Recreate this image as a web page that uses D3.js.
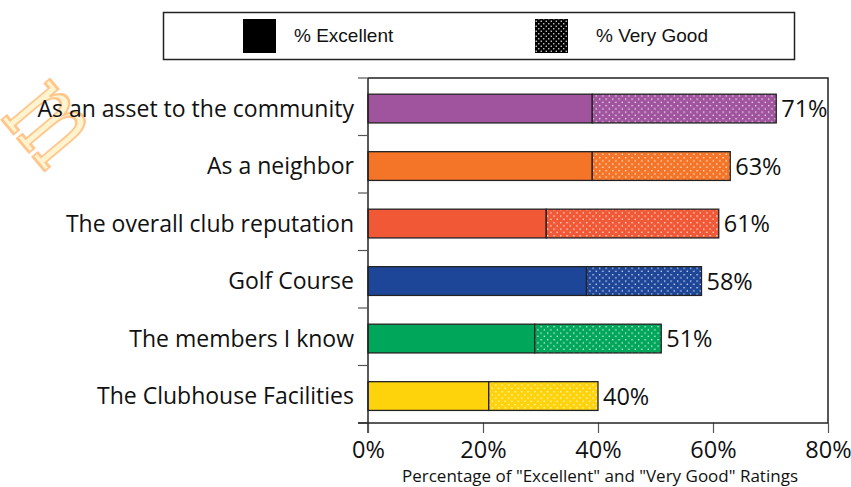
<!DOCTYPE html>
<html>
<head>
<meta charset="utf-8">
<script src="https://cdn.jsdelivr.net/npm/d3@7"></script>
<style>
  html, body { margin: 0; padding: 0; background: #fff; }
  svg { display: block; }
</style>
</head>
<body>
<svg id="chart" width="851" height="487"></svg>
<script>
// Ratings per aspect of the club
const categories = [
  "As an asset to the community",
  "As a neighbor",
  "The overall club reputation",
  "Golf Course",
  "The members I know",
  "The Clubhouse Facilities"
];
const excellent = [39, 39, 31, 38, 29, 21];
const veryGood = [32, 24, 30, 20, 22, 19];
const totals = [71, 63, 61, 58, 51, 40];
const barColors = ["#A0549E", "#F47528", "#F05836", "#1E4698", "#00A65A", "#FFD30B"];
const xTicks = [0, 20, 40, 60, 80];
const legendLabels = ["% Excellent", "% Very Good"];
const axisTitle = 'Percentage of "Excellent" and "Very Good" Ratings';

const svg = d3.select("#chart");
const labelFont = "'Open Sans', 'DejaVu Sans', sans-serif";

const plot = { left: 368, right: 828, top: 78, bottom: 423 };

const x = d3.scaleLinear().domain([0, 80]).range([plot.left, plot.right]);
// bars sit a little below the middle of each band
const y = d3.scaleBand().domain(categories)
  .range([plot.top + 1.8, plot.bottom + 1.8])
  .paddingInner(0.5).paddingOuter(0.25);

// Dotted fill patterns, one per bar colour, plus a black one for the legend
const defs = svg.append("defs");
function dotPattern(id, color, size) {
  const p = defs.append("pattern")
    .attr("id", id)
    .attr("patternUnits", "userSpaceOnUse")
    .attr("width", size).attr("height", size);
  p.append("rect").attr("width", size).attr("height", size).attr("fill", color);
  [[size * 0.25, size * 0.25], [size * 0.75, size * 0.75]].forEach(([cx, cy]) => {
    p.append("rect").attr("x", cx - 0.65).attr("y", cy - 0.65)
      .attr("width", 1.3).attr("height", 1.3).attr("fill", "#fff").attr("opacity", 0.9);
  });
  return `url(#${id})`;
}
const patterns = barColors.map((c, i) => dotPattern("dots" + i, c, 6.5));
const legendPattern = dotPattern("dotsLegend", "#000", 5);

// Watermark glyph
svg.append("text")
  .attr("transform", "translate(48,124) rotate(50) scale(0.72,1.14)")
  .attr("font-family", "'DejaVu Serif', 'Liberation Serif', serif")
  .attr("font-size", 106)
  .attr("dy", "0.27em")
  .attr("fill", "#FFF4CF")
  .attr("stroke", "#FFC58A")
  .attr("stroke-width", 2.4)
  .attr("text-anchor", "middle")
  .text("m");

// Legend
const legend = svg.append("g");
legend.append("rect")
  .attr("x", 163.5).attr("y", 12.5).attr("width", 631).attr("height", 47)
  .attr("fill", "#fff").attr("stroke", "#222").attr("stroke-width", 1.5);
const legendItems = [
  { x: 243, textX: 294, fill: "#000", label: legendLabels[0] },
  { x: 535, textX: 596, fill: legendPattern, label: legendLabels[1] }
];
legendItems.forEach(d => {
  legend.append("rect").attr("x", d.x).attr("y", 19).attr("width", 33).attr("height", 34).attr("fill", d.fill);
  legend.append("text")
    .attr("x", d.textX).attr("y", 41.5)
    .attr("font-family", "'Liberation Sans', Arial, sans-serif")
    .attr("font-size", 19)
    .attr("fill", "#111")
    .text(d.label);
});

// Frame: top and right borders
svg.append("path")
  .attr("d", `M${plot.left},${plot.top}H${plot.right}V${plot.bottom}`)
  .attr("fill", "none").attr("stroke", "#222").attr("stroke-width", 1.5);

// Bars
const rows = svg.append("g").selectAll("g").data(categories).join("g");
rows.append("rect")
  .attr("x", x(0))
  .attr("y", d => y(d))
  .attr("width", (d, i) => x(excellent[i]) - x(0))
  .attr("height", y.bandwidth())
  .attr("fill", (d, i) => barColors[i])
  .attr("stroke", "#222").attr("stroke-width", 1.3);
rows.append("rect")
  .attr("x", (d, i) => x(excellent[i]))
  .attr("y", d => y(d))
  .attr("width", (d, i) => x(excellent[i] + veryGood[i]) - x(excellent[i]))
  .attr("height", y.bandwidth())
  .attr("fill", (d, i) => patterns[i])
  .attr("stroke", "#222").attr("stroke-width", 1.3);
rows.append("text")
  .attr("x", (d, i) => x(totals[i]) + 5)
  .attr("y", d => y(d) + y.bandwidth() / 2)
  .attr("dy", "0.36em")
  .attr("font-family", labelFont)
  .attr("font-size", 23.5)
  .attr("fill", "#111")
  .text((d, i) => totals[i] + "%");

// Y axis with ticks at category boundaries
const yAxisG = svg.append("g");
yAxisG.append("line")
  .attr("x1", plot.left).attr("x2", plot.left)
  .attr("y1", plot.top).attr("y2", plot.bottom + 10)
  .attr("stroke", "#222").attr("stroke-width", 1.5);
const step = (plot.bottom - plot.top) / categories.length;
const boundaries = d3.range(categories.length + 1).map(i => plot.top + i * step);
yAxisG.selectAll("line.tick").data(boundaries).join("line")
  .attr("class", "tick")
  .attr("x1", plot.left - 10).attr("x2", plot.left)
  .attr("y1", d => d).attr("y2", d => d)
  .attr("stroke", "#555").attr("stroke-width", 1.2);
yAxisG.selectAll("text").data(categories).join("text")
  .attr("x", plot.left - 14)
  .attr("y", d => y(d) + y.bandwidth() / 2)
  .attr("dy", "0.36em")
  .attr("text-anchor", "end")
  .attr("font-family", labelFont)
  .attr("font-size", 23)
  .attr("fill", "#111")
  .text(d => d);

// X axis
const xAxis = d3.axisBottom(x).tickValues(xTicks).tickFormat(d => d + "%").tickSize(10).tickSizeOuter(0);
const xAxisG = svg.append("g").attr("transform", `translate(0,${plot.bottom})`).call(xAxis);
xAxisG.select(".domain").remove();
xAxisG.append("line")
  .attr("x1", plot.left - 10).attr("x2", plot.right)
  .attr("stroke", "#222").attr("stroke-width", 1.5);
xAxisG.selectAll(".tick line").attr("stroke", "#555").attr("stroke-width", 1.2);
xAxisG.selectAll(".tick text")
  .attr("y", 35)
  .attr("dy", 0)
  .attr("font-family", labelFont)
  .attr("font-size", 23.5)
  .attr("fill", "#111");

svg.append("text")
  .attr("x", (plot.left + plot.right) / 2 + 2)
  .attr("y", 482)
  .attr("text-anchor", "middle")
  .attr("font-family", labelFont)
  .attr("font-size", 17)
  .attr("fill", "#111")
  .text(axisTitle);
</script>
</body>
</html>
